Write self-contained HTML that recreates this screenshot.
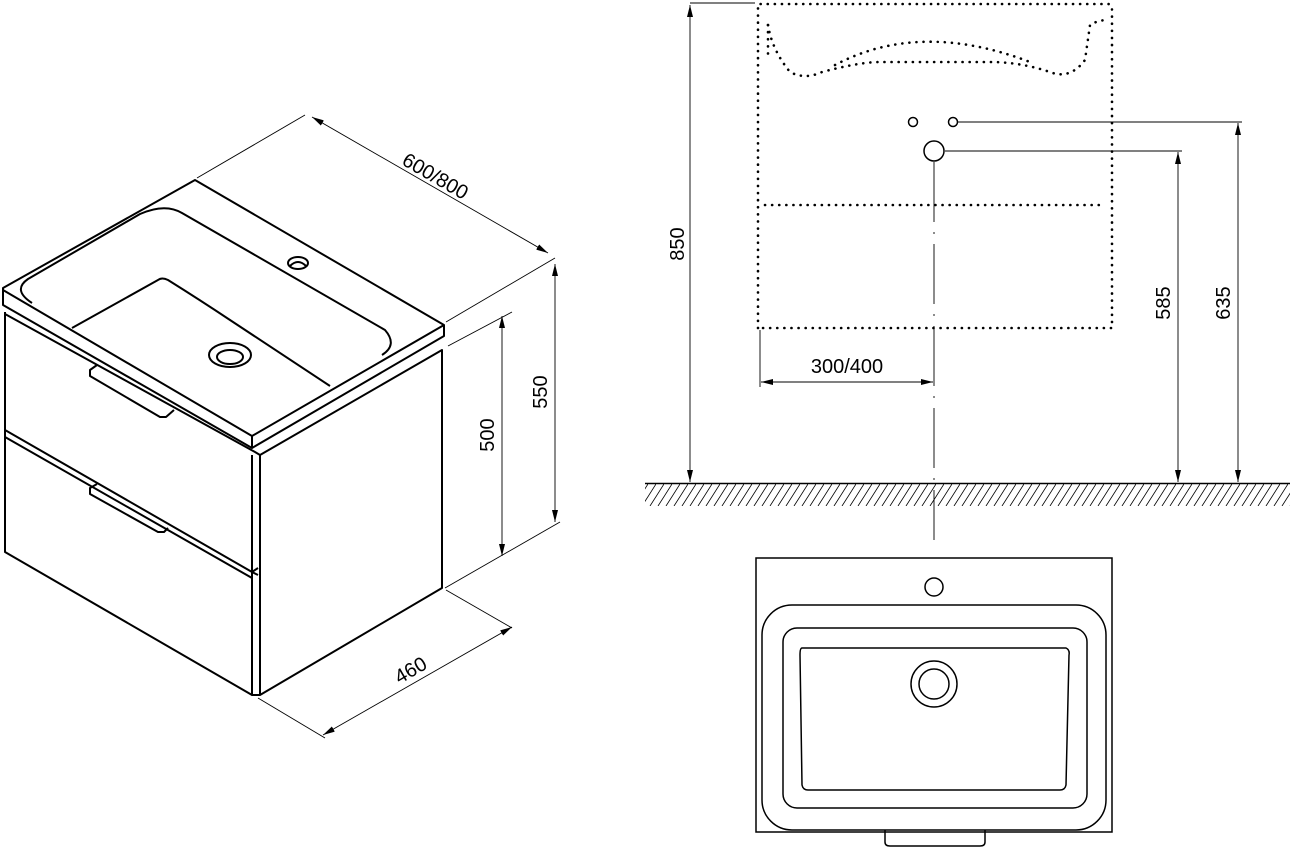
<!DOCTYPE html>
<html><head><style>
html,body{margin:0;padding:0;background:#fff;}
svg{display:block;}
text{font-family:"Liberation Sans",sans-serif;font-size:20px;fill:#000;}
</style></head><body>
<svg width="1291" height="848" viewBox="0 0 1291 848" xmlns="http://www.w3.org/2000/svg">
<defs>
<marker id="ar" viewBox="0 0 12 6" refX="12" refY="3" markerWidth="12" markerHeight="6" orient="auto-start-reverse" markerUnits="userSpaceOnUse"><path d="M0,0 L12,3 L0,6 z" fill="#000"/></marker>
<pattern id="hatch" width="8" height="22" patternUnits="userSpaceOnUse"><line x1="8" y1="0" x2="-6" y2="22" stroke="#000" stroke-width="0.8"/><line x1="16" y1="0" x2="2" y2="22" stroke="#000" stroke-width="0.8"/></pattern>
</defs>
<g fill="none" stroke="#000" stroke-width="2" stroke-linejoin="round">
<path d="M195,180 L3,288 L3,305 L252,448 L444,336 L444,325 L195,180 Z"/>
<path d="M3,290 L252,436 L444,325"/>
<line x1="252" y1="436" x2="252" y2="448"/>
<path d="M32,303 Q12,290 28,279 L140,214 Q165,203 182,213 L385,330 Q398,345 382,355"/>
<path d="M72,328 L158,280 Q162,277 168,280 Q200,300 230,320 L330,386"/>
<ellipse cx="230" cy="355" rx="21" ry="12"/>
<ellipse cx="230" cy="357" rx="13" ry="7"/>
<ellipse cx="298" cy="263" rx="10" ry="6"/>
<path d="M290,266 Q298,258 306,266"/>
<path d="M5,312 L5,552 L252,695"/>
<path d="M5,314 L255,452 L260,455 L442,350 L442,588 L260,695 L252,695 L252,455"/>
<line x1="260" y1="455" x2="260" y2="695"/>
<path d="M5,430 L252,572 L258,575"/>
<path d="M5,437 L252,578"/>
<path d="M252,572 L258,568"/>
<path d="M97,365 L90,370 L90,376 L160,417 L166,417 L174,410"/>
<path d="M97,484 L90,488 L90,494 L158,532 L164,532 L168,528"/>
</g>
<g fill="none" stroke="#000" stroke-width="0.9">
<line x1="197" y1="178" x2="305" y2="115"/>
<line x1="446" y1="322" x2="555" y2="258"/>
<line x1="312" y1="117" x2="548" y2="253" marker-start="url(#ar)" marker-end="url(#ar)"/>
<line x1="445" y1="588" x2="560" y2="522"/>
<line x1="555" y1="264" x2="555" y2="522" marker-start="url(#ar)" marker-end="url(#ar)"/>
<line x1="448" y1="346" x2="512" y2="312"/>
<line x1="502" y1="316" x2="502" y2="556" marker-start="url(#ar)" marker-end="url(#ar)"/>
<line x1="258" y1="698" x2="325" y2="738"/>
<line x1="446" y1="590" x2="512" y2="628"/>
<line x1="323" y1="735" x2="512" y2="627" marker-start="url(#ar)" marker-end="url(#ar)"/>
</g>
<text transform="translate(432,182) rotate(30)" text-anchor="middle">600/800</text>
<text transform="translate(547,392) rotate(-90)" text-anchor="middle">550</text>
<text transform="translate(494,435) rotate(-90)" text-anchor="middle">500</text>
<text transform="translate(414,676) rotate(-30)" text-anchor="middle">460</text>

<g fill="none" stroke="#000" stroke-width="2.6" stroke-dasharray="0.1 7" stroke-linecap="round">
<path d="M758,328 L758,4 L1108,4 Q1112,4 1112,10 L1112,328 Z"/>
<line x1="765" y1="205" x2="1105" y2="205"/>
<path d="M768,25 Q772,50 790,72 Q805,80 822,72 Q860,62 880,62 L990,62 Q1020,62 1050,72 Q1070,80 1085,60 L1090,25 Q1098,20 1108,20"/>
<path d="M835,65 Q920,20 1030,62"/>
<path d="M768,25 L768,55"/>
</g>
<g fill="none" stroke="#000" stroke-width="1.5">
<circle cx="913" cy="122" r="4.5"/>
<circle cx="953" cy="122" r="4.5"/>
<circle cx="934" cy="151" r="10"/>
</g>
<g fill="none" stroke="#000" stroke-width="0.9">
<line x1="934" y1="162" x2="934" y2="540" stroke-dasharray="60 10 2 10"/>
<line x1="690" y1="3" x2="755" y2="3"/>
<line x1="690" y1="5" x2="690" y2="482" marker-start="url(#ar)" marker-end="url(#ar)"/>
<line x1="945" y1="151" x2="1182" y2="151"/>
<line x1="1178" y1="152" x2="1178" y2="482" marker-start="url(#ar)" marker-end="url(#ar)"/>
<line x1="958" y1="122" x2="1242" y2="122"/>
<line x1="1238" y1="123" x2="1238" y2="482" marker-start="url(#ar)" marker-end="url(#ar)"/>
<line x1="760" y1="330" x2="760" y2="387"/>
<line x1="761" y1="382" x2="933" y2="382" marker-start="url(#ar)" marker-end="url(#ar)"/>
</g>
<rect x="645" y="484" width="645" height="22" fill="url(#hatch)"/>
<line x1="645" y1="483.5" x2="1290" y2="483.5" stroke="#000" stroke-width="1.5"/>
<text transform="translate(684,244) rotate(-90)" text-anchor="middle">850</text>
<text transform="translate(1170,303) rotate(-90)" text-anchor="middle">585</text>
<text transform="translate(1230,303) rotate(-90)" text-anchor="middle">635</text>
<text x="847" y="373" text-anchor="middle">300/400</text>

<g fill="none" stroke="#000" stroke-width="1.5">
<rect x="756" y="558" width="356" height="274"/>
<rect x="762" y="605" width="344" height="225" rx="30"/>
<rect x="783" y="628" width="304" height="180" rx="14"/>
<path d="M802,648 L1066,648 Q1070,650 1069,655 L1066,785 Q1065,790 1060,790 L808,790 Q803,790 802,785 L800,655 Q800,648 802,648 Z"/>
<circle cx="934" cy="684" r="23"/>
<circle cx="934" cy="684" r="15"/>
<circle cx="934" cy="587" r="9"/>
<path d="M885,830 L885,842 Q885,846 890,846 L980,846 Q985,846 985,842 L985,830"/>
</g>
</svg>
</body></html>
